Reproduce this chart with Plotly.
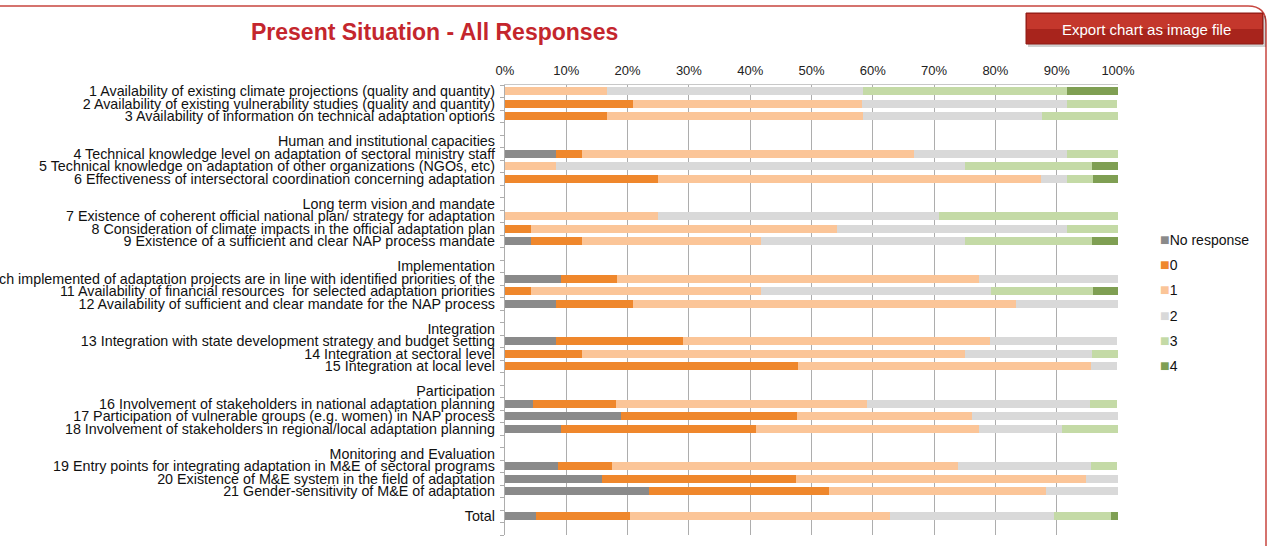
import plotly.graph_objects as go

# ---------------- data ----------------
row_labels = [
    "1 Availability of existing climate projections (quality and quantity)",
    "2 Availability of existing vulnerability studies (quality and quantity)",
    "3 Availability of information on technical adaptation options",
    " ",
    "Human and institutional capacities",
    "4 Technical knowledge level on adaptation of sectoral ministry staff",
    "5 Technical knowledge on adaptation of other organizations (NGOs, etc)",
    "6 Effectiveness of intersectoral coordination concerning adaptation",
    "  ",
    "Long term vision and mandate",
    "7 Existence of coherent official national plan/ strategy for adaptation",
    "8 Consideration of climate impacts in the official adaptation plan",
    "9 Existence of a sufficient and clear NAP process mandate",
    "   ",
    "Implementation",
    "ch implemented of adaptation projects are in line with identified priorities of the",
    "11 Availability of financial resources  for selected adaptation priorities",
    "12 Availability of sufficient and clear mandate for the NAP process",
    "    ",
    "Integration",
    "13 Integration with state development strategy and budget setting",
    "14 Integration at sectoral level",
    "15 Integration at local level",
    "     ",
    "Participation",
    "16 Involvement of stakeholders in national adaptation planning",
    "17 Participation of vulnerable groups (e.g. women) in NAP process",
    "18 Involvement of stakeholders in regional/local adaptation planning",
    "      ",
    "Monitoring and Evaluation",
    "19 Entry points for integrating adaptation in M&E of sectoral programs",
    "20 Existence of M&E system in the field of adaptation",
    "21 Gender-sensitivity of M&E of adaptation",
    "       ",
    "Total",
    "        ",
]

bar_rows = [row_labels[i] for i in (0, 1, 2, 5, 6, 7, 10, 11, 12, 15, 16, 17,
                                    20, 21, 22, 25, 26, 27, 30, 31, 32, 34)]

series_names = ["No response", "0", "1", "2", "3", "4"]

no_response = [0, 0, 0, 8.3, 0, 0, 0, 0, 4.2, 9.1, 0, 8.3,
               8.3, 0, 0, 4.5, 19.0, 9.1, 8.7, 15.8, 23.5, 5.1]
score_0 = [0, 20.8, 16.7, 4.2, 0, 25.0, 0, 4.2, 8.3, 9.1, 4.2, 12.5,
           20.8, 12.5, 47.8, 13.6, 28.6, 31.8, 8.7, 31.6, 29.4, 15.3]
score_1 = [16.7, 37.5, 41.7, 54.2, 8.3, 62.5, 25.0, 50.0, 29.2, 59.1, 37.5, 62.5,
           50.0, 62.5, 47.8, 40.9, 28.6, 36.4, 56.5, 47.4, 35.3, 42.4]
score_2 = [41.7, 33.3, 29.2, 25.0, 66.7, 4.2, 45.8, 37.5, 33.3, 22.7, 37.5, 16.7,
           20.8, 20.8, 4.3, 36.4, 23.8, 13.6, 21.7, 5.3, 11.8, 26.8]
score_3 = [33.3, 8.3, 12.5, 8.3, 20.8, 4.2, 29.2, 8.3, 20.8, 0, 16.7, 0,
           0, 4.2, 0, 4.5, 0, 9.1, 4.3, 0, 0, 9.3]
score_4 = [8.3, 0, 0, 0, 4.2, 4.2, 0, 0, 4.2, 0, 4.2, 0,
           0, 0, 0, 0, 0, 0, 0, 0, 0, 1.1]

series_values = [no_response, score_0, score_1, score_2, score_3, score_4]
x_ticks = [0, 10, 20, 30, 40, 50, 60, 70, 80, 90, 100]
x_tick_text = ["0%", "10%", "20%", "30%", "40%", "50%", "60%", "70%", "80%", "90%", "100%"]

# ---------------- style ----------------
colors = ["#8a8a8a", "#ef872c", "#fbc598", "#d9d9d9", "#c4daa6", "#7f9f53"]
W, H = 1269, 546
L, R, T, B = 505, 151, 85, 11
plot_w, plot_h = W - L - R, H - T - B


def px(xp):
    return (xp - L) / plot_w


def py(yp):
    return (H - B - yp) / plot_h


label_font = dict(family="Liberation Sans Narrow, Arial Narrow, Liberation Sans, Arial",
                  size=14.3, color="#111111")
base_font = dict(family="Liberation Sans, Arial, Helvetica", size=13, color="#222222")

fig = go.Figure()
for name, vals, col in zip(series_names, series_values, colors):
    fig.add_trace(go.Bar(
        x=vals, y=bar_rows, name=name, orientation="h",
        marker=dict(color=col, line=dict(width=0)),
        width=0.62, showlegend=False,
    ))
for name, col in zip(series_names, colors):
    fig.add_trace(go.Scatter(
        x=[None], y=[None], mode="markers", legendgroup=name,
        name=f"<span style='color:{col};font-size:16px'>■</span>{name}",
        marker=dict(symbol="square", size=6, color="rgba(0,0,0,0)"),
    ))

fig.update_layout(
    width=W, height=H,
    margin=dict(l=L, r=R, t=T, b=B, autoexpand=False),
    barmode="stack",
    paper_bgcolor="white", plot_bgcolor="white",
    font=base_font,
    showlegend=True,
    legend=dict(
        x=px(1120), y=py(224), xanchor="left", yanchor="top",
        font=dict(family="Liberation Sans, Arial, Helvetica", size=14, color="#111111"),
        traceorder="grouped", tracegroupgap=4, itemwidth=30,
        bgcolor="rgba(0,0,0,0)",
    ),
    xaxis=dict(
        side="top", range=[0, 100], tickmode="array", tickvals=x_ticks, ticktext=x_tick_text,
        showgrid=True, gridcolor="#adadad", gridwidth=1.4,
        showline=True, linecolor="#c8c8c8", linewidth=1,
        zeroline=False, ticks="", tickfont=dict(size=13, color="#222222"),
        ticklabelstandoff=4, fixedrange=True,
    ),
    yaxis=dict(
        type="category", categoryorder="array", categoryarray=row_labels,
        tickvals=row_labels, ticktext=row_labels,
        range=[len(row_labels) - 0.5, -0.5],
        showgrid=False, zeroline=False,
        showline=True, linecolor="#adadad", linewidth=1.4,
        ticks="outside", ticklen=4, tickcolor="#adadad", tickson="boundaries",
        ticklabelstandoff=6,
        tickfont=label_font, fixedrange=True,
    ),
)

# title
fig.add_annotation(
    text="<b>Present Situation - All Responses</b>", x=px(434), y=py(32),
    xref="paper", yref="paper", xanchor="center", yanchor="middle", showarrow=False,
    font=dict(family="Liberation Sans, Arial, Helvetica", size=23, color="#c4262d"),
)

# red frame line
fig.add_shape(
    type="path", xref="paper", yref="paper",
    path=(f"M {px(0)},{py(6)} L {px(1248)},{py(6)} "
          f"Q {px(1266)},{py(6)} {px(1266)},{py(24)} L {px(1266)},{py(546)}"),
    line=dict(color="#c8463f", width=1.5),
)

# export button (shadow + body with lighter upper half)
fig.add_shape(type="rect", xref="paper", yref="paper",
              x0=px(1028), x1=px(1266), y0=py(16), y1=py(47),
              fillcolor="rgba(0,0,0,0.18)", line=dict(width=0), layer="above")
fig.add_shape(type="rect", xref="paper", yref="paper",
              x0=px(1026), x1=px(1263), y0=py(13), y1=py(44),
              fillcolor="#a8241c", line=dict(color="#8e1b14", width=1), layer="above")
fig.add_shape(type="rect", xref="paper", yref="paper",
              x0=px(1027), x1=px(1262), y0=py(14), y1=py(29),
              fillcolor="#c4372c", line=dict(width=0), layer="above")
fig.add_annotation(
    text="Export chart as image file", x=px(1146), y=py(29),
    xref="paper", yref="paper", xanchor="center", yanchor="middle", showarrow=False,
    font=dict(family="Liberation Sans, Arial, Helvetica", size=15, color="white"),
)

fig.write_html("out.html", config={"displayModeBar": False},
               post_script="document.body.style.margin='0';")
